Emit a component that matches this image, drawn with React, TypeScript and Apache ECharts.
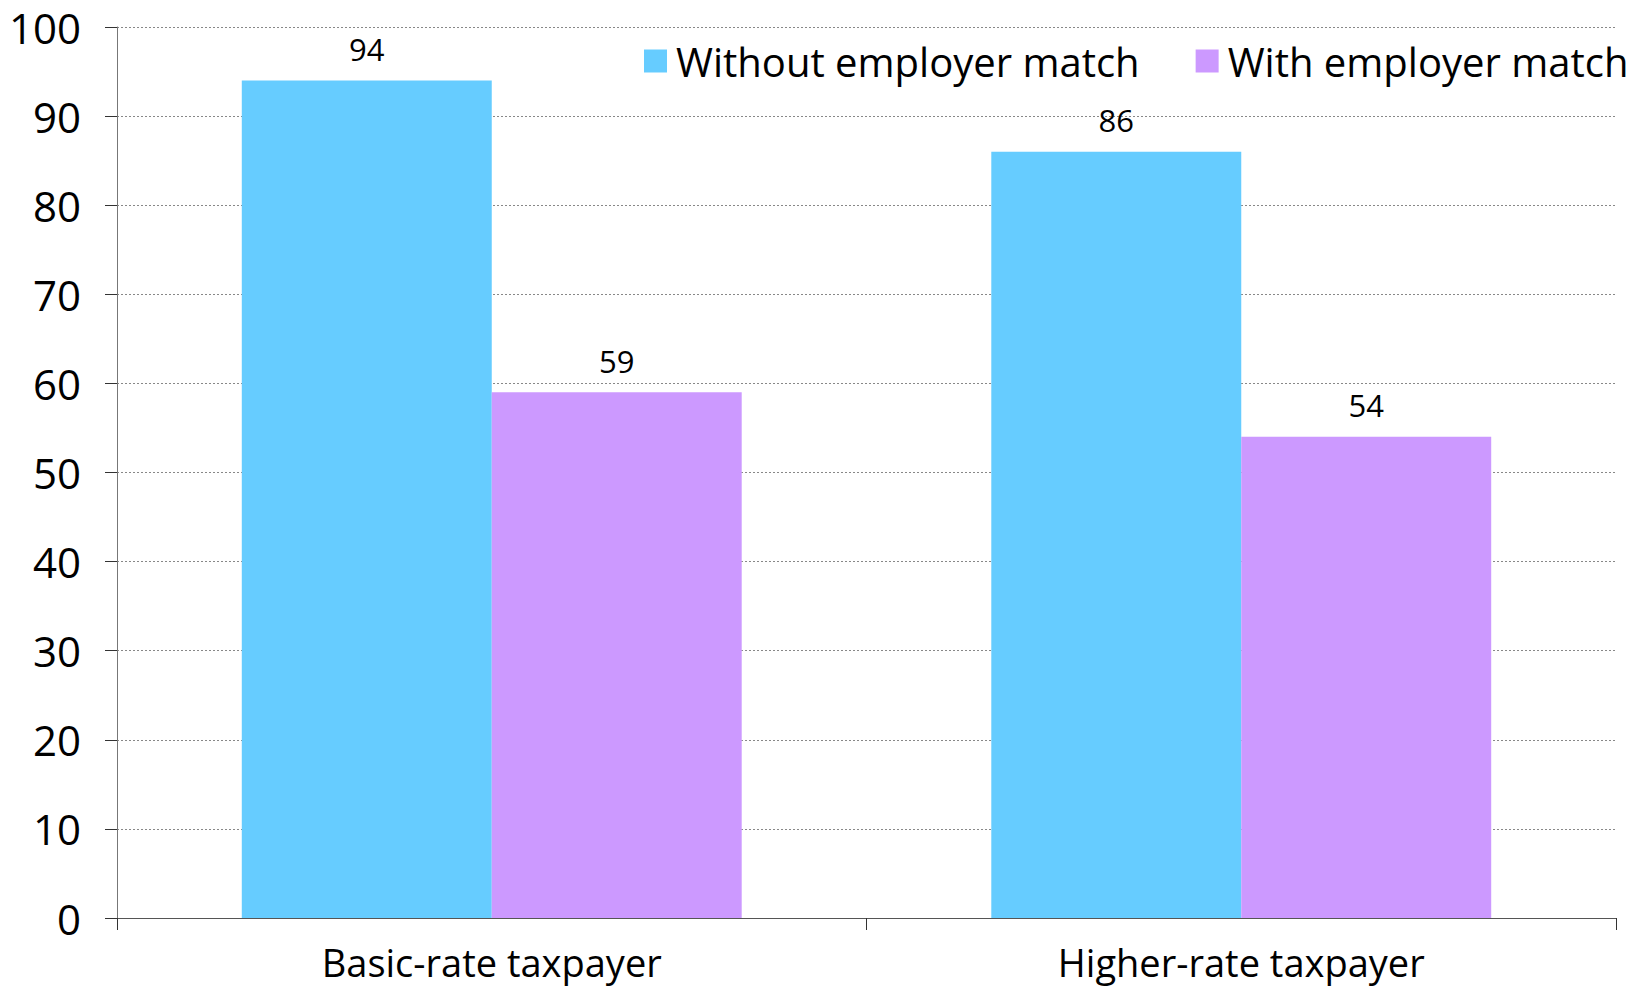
import React, { useEffect, useRef } from "react";
import * as echarts from "echarts";

const categories = ["Basic-rate taxpayer", "Higher-rate taxpayer"];
const seriesNames = ["Without employer match", "With employer match"];
const withoutMatch = [94, 86];
const withMatch = [59, 54];
const colors = ["#66CCFF", "#CC99FF"];

const FONT = "'Open Sans', 'Noto Sans', sans-serif";

export default function App() {
  const ref = useRef<HTMLDivElement>(null);

  useEffect(() => {
    document.body.style.margin = "0";
    if (!ref.current) return;
    const chart = echarts.init(ref.current, null, { renderer: "svg" });

    const labelStyle = {
      show: true,
      position: "top" as const,
      distance: 16,
      color: "#000",
      fontSize: 31,
      fontFamily: FONT,
    };

    chart.setOption({
      animation: false,
      backgroundColor: "#fff",
      textStyle: { fontFamily: FONT },
      legend: {
        orient: "horizontal",
        left: 644,
        top: 41,
        width: 1000,
        padding: 0,
        itemWidth: 23,
        itemHeight: 23,
        itemGap: 56,
        icon: "rect",
        textStyle: { fontSize: 40, color: "#000", fontFamily: FONT, padding: [0, 0, 0, 4] },
        data: seriesNames,
      },
      grid: { left: 117, right: 25, top: 27, bottom: 72, containLabel: false },
      xAxis: {
        type: "category",
        data: categories,
        axisLine: { lineStyle: { color: "#555", width: 1 } },
        axisTick: { show: true, length: 12, inside: false, lineStyle: { color: "#333" } },
        axisLabel: { fontSize: 38, color: "#000", margin: 25, fontFamily: FONT },
        splitLine: { show: false },
      },
      yAxis: {
        type: "value",
        min: 0,
        max: 100,
        interval: 10,
        axisLine: { show: true, lineStyle: { color: "#777", width: 1 } },
        axisTick: { show: true, length: 12, lineStyle: { color: "#333" } },
        axisLabel: { fontSize: 42, color: "#000", margin: 36, fontFamily: FONT },
        splitLine: { show: true, lineStyle: { color: "#888", type: [2, 2], width: 1 } },
      },
      series: [
        {
          name: seriesNames[0],
          type: "bar",
          data: withoutMatch,
          itemStyle: { color: colors[0] },
          barGap: "0%",
          barCategoryGap: "33.3%",
          label: labelStyle,
        },
        {
          name: seriesNames[1],
          type: "bar",
          data: withMatch,
          itemStyle: { color: colors[1] },
          barGap: "0%",
          barCategoryGap: "33.3%",
          label: labelStyle,
        },
      ],
    });

    return () => chart.dispose();
  }, []);

  return <div ref={ref} style={{ width: 1641, height: 990 }} />;
}
